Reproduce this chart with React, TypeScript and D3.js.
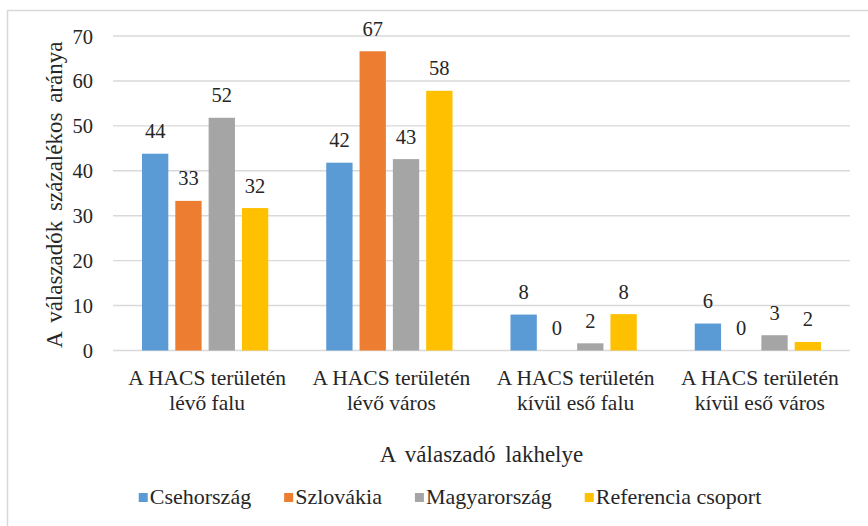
import React from "react";
import * as d3 from "d3";

// categories (two text lines each) and series
const categories = [
  ["A HACS területén", "lévő falu"],
  ["A HACS területén", "lévő város"],
  ["A HACS területén", "kívül eső falu"],
  ["A HACS területén", "kívül eső város"]
];
const seriesNames = ["Csehország", "Szlovákia", "Magyarország", "Referencia csoport"];
const seriesColors = ["#5B9BD5", "#ED7D31", "#A5A5A5", "#FFC000"];

const csehorszag = [43.8, 41.8, 8.0, 6.0];
const szlovakia = [33.3, 66.6, 0, 0];
const magyarorszag = [51.8, 42.6, 1.6, 3.4];
const referencia = [31.7, 57.8, 8.1, 1.9];

const yTicks = [0, 10, 20, 30, 40, 50, 60, 70];
const yTitle = "A válaszadók százalékos aránya";
const xTitle = "A válaszadó lakhelye";

const W = 868;
const H = 526;
const FONT = "Liberation Serif";
const TXT = "#262626";

function measure(text: string, size: number) {
  const ctx = document.createElement("canvas").getContext("2d");
  if (!ctx) return text.length * size * 0.45;
  ctx.font = `${size}px "${FONT}"`;
  return ctx.measureText(text).width;
}

export default function App() {
  const values = [csehorszag, szlovakia, magyarorszag, referencia];

  const x0 = d3.scaleBand<number>().domain(d3.range(categories.length)).range([113, 850]);
  const x1 = d3
    .scaleBand<number>()
    .domain(d3.range(seriesNames.length))
    .range([0, x0.bandwidth()])
    .paddingInner(0.21)
    .paddingOuter(0.87);
  const y = d3.scaleLinear().domain([0, 70]).range([350.5, 36]);

  // legend layout from measured text widths
  const legendSize = 22;
  const widths = seriesNames.map(n => 11 + measure(n, legendSize));
  const gap = 33;
  const total = d3.sum(widths) + gap * (widths.length - 1);
  const offsets: number[] = [];
  let cursor = 450 - total / 2;
  widths.forEach(w => {
    offsets.push(cursor);
    cursor += w + gap;
  });

  return (
    <svg
      width={W}
      height={H}
      fontFamily={FONT}
      style={{ position: "absolute", left: 0, top: 0, display: "block" }}
    >
      <rect width={W} height={H} fill="#fff" />
      <rect x={7.5} y={10.5} width={900} height={600} fill="none" stroke="#D9D9D9" strokeWidth={1.5} />

      {yTicks.map(t => (
        <g key={t}>
          <line x1={113} x2={850} y1={y(t)} y2={y(t)} stroke="#D9D9D9" strokeWidth={1.4} />
          <text x={93} y={y(t) + 7.5} textAnchor="end" fontFamily={FONT} fontSize={20.5} fill={TXT}>
            {t}
          </text>
        </g>
      ))}

      {values.map((vals, s) => (
        <g key={s}>
          {vals.map((v, i) => {
            const bx = (x0(i) as number) + (x1(s) as number);
            return (
              <g key={i}>
                <rect x={bx} width={x1.bandwidth()} y={y(v)} height={y(0) - y(v)} fill={seriesColors[s]} />
                <text
                  x={bx + x1.bandwidth() / 2}
                  y={y(v) - 15.5}
                  textAnchor="middle"
                  fontFamily={FONT}
                  fontSize={20.5}
                  fill={TXT}
                >
                  {Math.round(v)}
                </text>
              </g>
            );
          })}
        </g>
      ))}

      {categories.map((lines, i) => (
        <text key={i} textAnchor="middle" fontFamily={FONT} fontSize={21.5} fill={TXT}>
          {lines.map((l, k) => (
            <tspan key={k} x={(x0(i) as number) + x0.bandwidth() / 2 + 2} y={385 + k * 25}>
              {l}
            </tspan>
          ))}
        </text>
      ))}

      <text
        transform={`translate(62,${(y(0) + y(70)) / 2 + 1.5}) rotate(-90)`}
        textAnchor="middle"
        fontFamily={FONT}
        fontSize={23}
        wordSpacing={4}
        fill={TXT}
      >
        {yTitle}
      </text>
      <text x={(113 + 850) / 2} y={462} textAnchor="middle" fontFamily={FONT} fontSize={23} wordSpacing={4} fill={TXT}>
        {xTitle}
      </text>

      {seriesNames.map((n, i) => (
        <g key={n} transform={`translate(${offsets[i]},0)`}>
          <rect y={493} width={9} height={9} fill={seriesColors[i]} />
          <text x={11} y={504} fontFamily={FONT} fontSize={legendSize} fill={TXT}>
            {n}
          </text>
        </g>
      ))}
    </svg>
  );
}
